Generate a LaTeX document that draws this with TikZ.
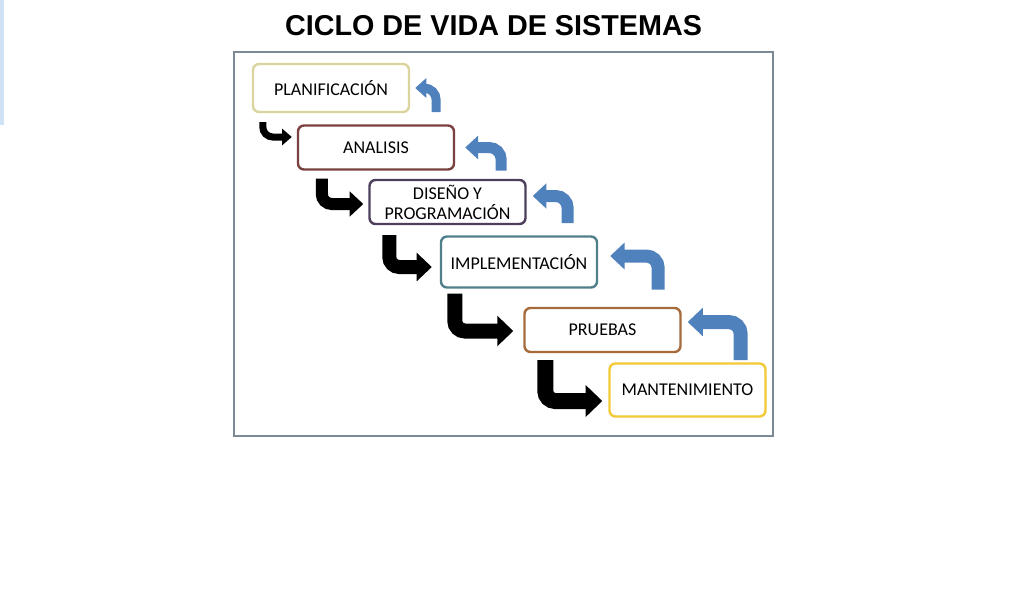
\documentclass[tikz,border=0pt]{standalone}
\usepackage{fontspec}
\setmainfont{Carlito}
\newfontfamily\titulofont{Liberation Sans}
\usetikzlibrary{arrows.meta}

\definecolor{marco}{HTML}{7D8A96}
\definecolor{azul}{HTML}{4F81BD}
\definecolor{franja}{HTML}{CFE1F5}
\definecolor{cplan}{HTML}{DAD59E}
\definecolor{canal}{HTML}{7B4040}
\definecolor{cdise}{HTML}{4D3E5C}
\definecolor{cimpl}{HTML}{50808A}
\definecolor{cprue}{HTML}{A56B3A}
\definecolor{cmant}{HTML}{F2C936}

\begin{document}
\begin{tikzpicture}[x=1pt,y=-1pt,
  etapa/.style={draw=#1, fill=white, line width=2.4pt, rounded corners=6pt,
    minimum width=156pt, minimum height=44pt, align=center, inner sep=2pt,
    font=\fontsize{18}{20}\selectfont},
  avance/.style={draw=black, line width=#1, rounded corners=10pt,
    -{Triangle[length=4pt 0.8, width=4pt 1.7]}},
  retorno/.style={draw=azul, line width=#1, rounded corners=12pt,
    -{Triangle[length=4pt 0.8, width=4pt 1.7]}}]

\useasboundingbox (0,0) rectangle (1024,600);

% Franja del borde
\fill[franja] (0,0) rectangle (4,125);

% Título
\node (titulo) at (493.5,26) {\titulofont\bfseries\fontsize{28.75}{30}\selectfont CICLO DE VIDA DE SISTEMAS};

% Marco
\draw[marco, line width=2pt] (234,52) rectangle (773,436);

% Etapas
\node[etapa=cplan, minimum height=48pt] (plan) at (331,88) {PLANIFICACIÓN};
\node[etapa=canal] (anal) at (376,147.5) {ANALISIS};
\node[etapa=cdise] (dise) at (447.5,202) {DISEÑO Y\\PROGRAMACIÓN};
\node[etapa=cimpl, minimum height=51pt] (impl) at (519,262) {IMPLEMENTACIÓN};
\node[etapa=cprue] (prue) at (602.5,330) {PRUEBAS};
\node[etapa=cmant, minimum height=53pt] (mant) at (687.5,390) {MANTENIMIENTO};

% Flechas de avance
\draw[avance=7pt, shorten >=5pt] ([shift={(11,9)}]plan.south west) |- ([shift={(0,-10.5)}]anal.west);
\draw[avance=12pt, shorten >=5pt] ([shift={(25,8)}]anal.south west) |- ([shift={(0,2)}]dise.west);
\draw[avance=14pt, shorten >=8pt] ([shift={(21,10)}]dise.south west) |- ([shift={(0,5)}]impl.west);
\draw[avance=15pt, shorten >=10pt] ([shift={(15,5)}]impl.south west) |- ([shift={(0,1)}]prue.west);
\draw[avance=16pt, shorten >=6pt] ([shift={(22,7)}]prue.south west) |- ([shift={(0,11)}]mant.west);

% Flechas de retorno
\draw[retorno=9pt, shorten >=5pt] ([shift={(26,-1)}]plan.south east) |- (plan.east);
\draw[retorno=11pt, shorten >=10pt] ([shift={(46,0)}]anal.south east) |- (anal.east);
\draw[retorno=12pt, shorten >=6pt] ([shift={(41,-2)}]dise.south east) |- ([shift={(0,-6)}]dise.east);
\draw[retorno=13pt, shorten >=12pt] ([shift={(60,1)}]impl.south east) |- ([shift={(0,-6)}]impl.east);
\draw[retorno=14pt, shorten >=6pt] ([shift={(59,7)}]prue.south east) |- ([shift={(0,-8)}]prue.east);

\end{tikzpicture}
\end{document}
